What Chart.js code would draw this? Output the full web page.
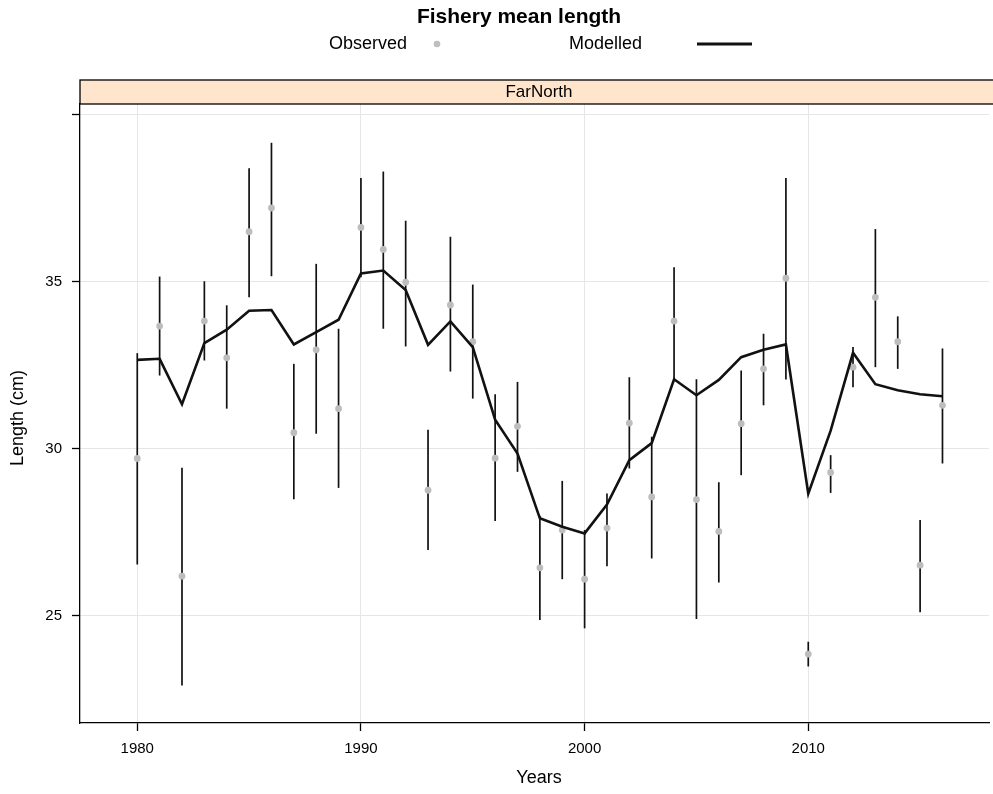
<!DOCTYPE html>
<html>
<head>
<meta charset="utf-8">
<script src="https://cdn.jsdelivr.net/npm/chart.js@4.4.1/dist/chart.umd.min.js"></script>
<style>
  html, body { margin: 0; padding: 0; background: #fff; overflow: hidden; }
  #wrap { width: 993px; height: 794px; }
</style>
</head>
<body>
<div id="wrap"><canvas id="chart" width="993" height="794"></canvas></div>
<script>
// values
const years = [1980, 1981, 1982, 1983, 1984, 1985, 1986, 1987, 1988, 1989,
  1990, 1991, 1992, 1993, 1994, 1995, 1996, 1997, 1998, 1999,
  2000, 2001, 2002, 2003, 2004, 2005, 2006, 2007, 2008, 2009,
  2010, 2011, 2012, 2013, 2014, 2015, 2016];
const modelled = [32.66, 32.69, 31.33, 33.16, 33.56, 34.13, 34.15, 33.12, 33.49, 33.86,
  35.24, 35.33, 34.75, 33.11, 33.81, 33.04, 30.87, 29.86, 27.92, 27.67,
  27.47, 28.33, 29.66, 30.17, 32.08, 31.60, 32.06, 32.74, 32.96, 33.12,
  28.66, 30.54, 32.87, 31.93, 31.75, 31.63, 31.57];
const observed = [29.71, 33.67, 26.19, 33.82, 32.72, 36.49, 37.20, 30.48, 32.96, 31.20,
  36.62, 35.96, 34.98, 28.76, 34.30, 33.20, 29.72, 30.67, 26.44, 27.57,
  26.10, 27.63, 30.77, 28.56, 33.82, 28.48, 27.53, 30.75, 32.39, 35.10,
  23.86, 29.29, 32.44, 34.53, 33.20, 26.52, 31.30];
const obsLower = [26.54, 32.19, 22.92, 32.64, 31.20, 34.53, 35.16, 28.49, 30.45, 28.83,
  35.13, 33.59, 33.06, 26.97, 32.31, 31.50, 27.84, 29.31, 24.88, 26.10,
  24.63, 26.49, 29.41, 26.72, 32.08, 24.91, 26.00, 29.21, 31.30, 32.07,
  23.49, 28.68, 31.84, 32.44, 32.39, 25.11, 29.56];
const obsUpper = [32.86, 35.15, 29.43, 35.01, 34.29, 38.39, 39.15, 32.54, 35.53, 33.59,
  38.10, 38.29, 36.82, 30.57, 36.34, 34.91, 31.63, 32.00, 28.00, 29.04,
  27.57, 28.66, 32.14, 30.36, 35.43, 32.08, 29.00, 32.34, 33.44, 38.10,
  24.23, 29.81, 33.04, 36.57, 33.96, 27.87, 33.00];
const xTicks = [1980, 1990, 2000, 2010];
const yTicks = [25, 30, 35, 40];
const yLabelled = [25, 30, 35];

const FONT = '"Liberation Sans", Arial, Helvetica, sans-serif';

// error bars under the points, drawn through the chart scales
const errorBars = {
  id: 'errorBars',
  beforeDatasetsDraw(chart) {
    const {ctx, scales: {x, y}} = chart;
    ctx.save();
    ctx.strokeStyle = '#111';
    ctx.lineWidth = 1.7;
    years.forEach((yr, i) => {
      const px = x.getPixelForValue(yr);
      ctx.beginPath();
      ctx.moveTo(px, y.getPixelForValue(obsLower[i]));
      ctx.lineTo(px, y.getPixelForValue(obsUpper[i]));
      ctx.stroke();
    });
    ctx.restore();
  }
};

// strip, title, key and axis titles
const decor = {
  id: 'decor',
  afterDraw(chart) {
    const {ctx, chartArea: area} = chart;
    ctx.save();
    // strip
    ctx.fillStyle = '#ffe5cc';
    ctx.fillRect(area.left, 80, 1000 - area.left, area.top - 80);
    ctx.strokeStyle = '#000';
    ctx.lineWidth = 1.3;
    ctx.strokeRect(area.left, 80, 1000 - area.left, area.top - 80);
    ctx.fillStyle = '#000';
    ctx.textAlign = 'center';
    ctx.textBaseline = 'middle';
    ctx.font = '17px ' + FONT;
    ctx.fillText('FarNorth', 539, 92.5);

    // title
    ctx.font = 'bold 21px ' + FONT;
    ctx.fillText('Fishery mean length', 519, 17);

    // key
    ctx.font = '18px ' + FONT;
    ctx.textAlign = 'left';
    ctx.fillText('Observed', 329, 44);
    ctx.fillText('Modelled', 569, 44);
    ctx.fillStyle = '#bfbfbf';
    ctx.beginPath();
    ctx.arc(437, 44, 3.3, 0, Math.PI * 2);
    ctx.fill();
    ctx.strokeStyle = '#111';
    ctx.lineWidth = 3;
    ctx.beginPath();
    ctx.moveTo(697, 44);
    ctx.lineTo(752, 44);
    ctx.stroke();

    // axis titles
    ctx.fillStyle = '#000';
    ctx.textAlign = 'center';
    ctx.font = '18px ' + FONT;
    ctx.fillText('Years', 539, 778);
    ctx.translate(18, 418);
    ctx.rotate(-Math.PI / 2);
    ctx.fillText('Length (cm)', 0, 0);
    ctx.restore();
  }
};

new Chart(document.getElementById('chart'), {
  type: 'scatter',
  data: {
    datasets: [
      {
        type: 'line',
        label: 'Modelled',
        data: years.map((yr, i) => ({x: yr, y: modelled[i]})),
        borderColor: '#111',
        borderWidth: 2.6,
        pointRadius: 0,
        tension: 0,
        fill: false
      },
      {
        label: 'Observed',
        data: years.map((yr, i) => ({x: yr, y: observed[i]})),
        backgroundColor: '#bdbdbd',
        borderWidth: 0,
        pointRadius: 3.4
      }
    ]
  },
  options: {
    responsive: false,
    animation: false,
    events: [],
    layout: {padding: {top: 104, left: 0, right: 0, bottom: 0}},
    plugins: {legend: {display: false}, tooltip: {enabled: false}, title: {display: false}},
    scales: {
      x: {
        type: 'linear',
        min: 1977.44,
        max: 2018.08,
        afterFit: s => { s.height = 71; },
        afterBuildTicks: s => { s.ticks = xTicks.map(v => ({value: v})); },
        grid: {color: '#e6e6e6', lineWidth: 1, tickColor: '#000', tickLength: 8, tickWidth: 1.3},
        border: {color: '#000', width: 1.3},
        ticks: {color: '#000', font: {family: FONT, size: 15}, padding: 9, maxRotation: 0,
          callback: v => String(v)}
      },
      y: {
        min: 21.8,
        max: 40.31,
        afterFit: s => { s.width = 80; },
        afterBuildTicks: s => { s.ticks = yTicks.map(v => ({value: v})); },
        grid: {color: '#e6e6e6', lineWidth: 1, tickColor: '#000', tickLength: 8, tickWidth: 1.3},
        border: {color: '#000', width: 1.3},
        ticks: {color: '#000', font: {family: FONT, size: 15}, padding: 10,
          callback: v => yLabelled.includes(v) ? String(v) : ''}
      }
    }
  },
  plugins: [errorBars, decor]
});
</script>
</body>
</html>
